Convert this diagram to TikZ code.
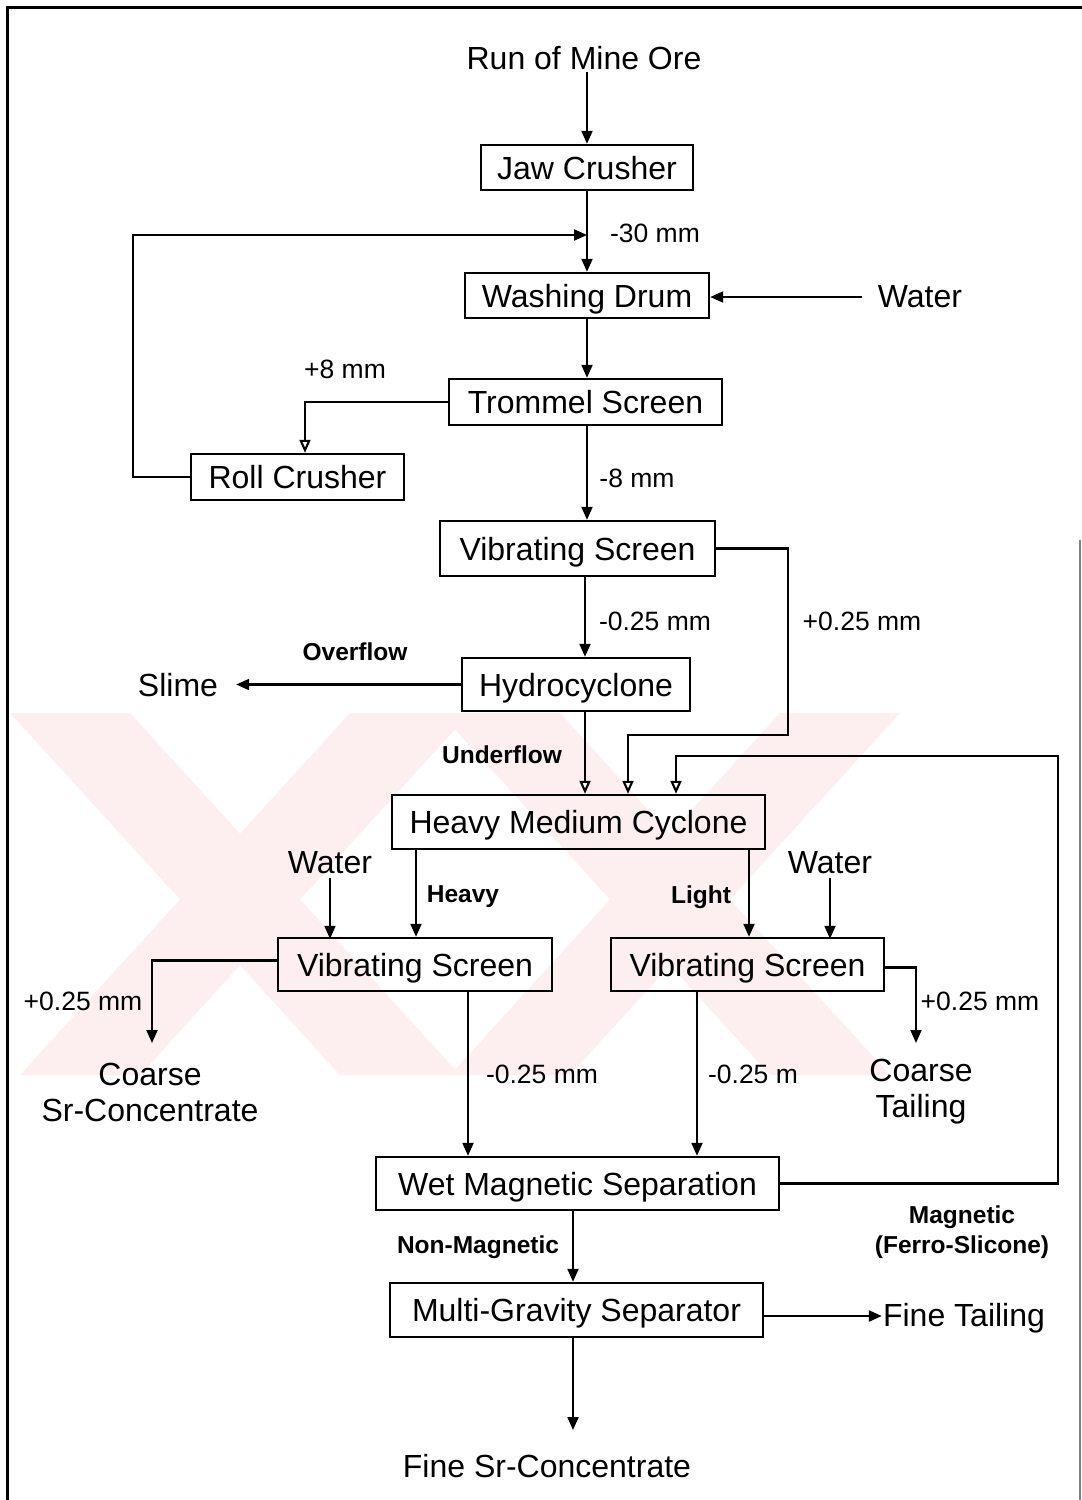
\documentclass[tikz,border=0pt]{standalone}
\usepackage{fontspec}
\setmainfont{Liberation Sans}
\usetikzlibrary{arrows.meta}
\definecolor{wm}{RGB}{253,238,240}
\begin{document}
\begin{tikzpicture}[x=1pt,y=-1pt,
  box/.style={draw, line width=2.4pt, inner sep=0pt, text height=23pt, text depth=0pt, font=\fontsize{32}{38}\selectfont},
  txt/.style={inner sep=2pt, font=\fontsize{32}{36}\selectfont, align=center},
  lbl/.style={inner sep=0pt, font=\fontsize{26.5}{30}\selectfont},
  blbl/.style={inner sep=0pt, font=\bfseries\fontsize{24.5}{30}\selectfont, align=center},
  arr/.style={line width=2.1pt, -{Triangle[length=13pt,width=11pt]}},
  oarr/.style={line width=2.1pt, -{Triangle[open,length=13pt,width=11pt,fill=white]}},
  conn/.style={line width=2.1pt}]
\useasboundingbox (0,0) rectangle (1082,1500);
\fill[white] (0,0) rectangle (1082,1500);
% watermark
\begin{scope}
\clip (10,713) rectangle (900,1075);
\fill[wm] (10,713) -- (130,713) -- (460,1075) -- (340,1075) -- cycle;
\fill[wm] (350,713) -- (470,713) -- (140,1075) -- (20,1075) -- cycle;
\fill[wm] (440,713) -- (560,713) -- (890,1075) -- (770,1075) -- cycle;
\fill[wm] (780,713) -- (900,713) -- (570,1075) -- (450,1075) -- cycle;
\end{scope}
% frame
\draw[line width=3pt] (7,1500) -- (7,7) -- (1082,7);
\draw[line width=1.5pt, gray] (1080,540) -- (1080,1500);

% nodes
\node[txt] (ore) at (584,58) {Run of Mine Ore};
\node[box, minimum width=212pt, minimum height=45pt] (jaw) at (587,167.5) {Jaw Crusher};
\node[box, minimum width=244pt, minimum height=45pt] (wash) at (587,295.5) {Washing Drum};
\node[txt] (water1) at (920,297) {Water};
\node[box, minimum width=273pt, minimum height=46pt] (trom) at (585.5,402) {Trommel Screen};
\node[box, minimum width=213pt, minimum height=46pt] (roll) at (297.5,477) {Roll Crusher};
\node[box, minimum width=275pt, minimum height=55pt] (vs1) at (577.5,548.5) {Vibrating Screen};
\node[box, minimum width=228pt, minimum height=53pt] (hyd) at (576,684.5) {Hydrocyclone};
\node[txt] (slime) at (178,685) {Slime};
\node[box, minimum width=373pt, minimum height=54pt] (hmc) at (578.5,822) {Heavy Medium Cyclone};
\node[txt] (waterL) at (330,863) {Water};
\node[txt] (waterR) at (830,863) {Water};
\node[box, minimum width=274pt, minimum height=53pt] (vs2) at (415,964.5) {Vibrating Screen};
\node[box, minimum width=273pt, minimum height=53pt] (vs3) at (747.5,964.5) {Vibrating Screen};
\node[txt] (coarseSr) at (150,1092) {Coarse\\Sr-Concentrate};
\node[txt] (coarseT) at (921,1092) {Coarse\\Tailing};
\node[box, minimum width=403pt, minimum height=53pt] (wms) at (577.5,1183.5) {Wet Magnetic Separation};
\node[box, minimum width=373pt, minimum height=54pt] (mgs) at (576.5,1310) {Multi-Gravity Separator};
\node[txt, inner sep=1pt] (fineT) at (964,1318) {Fine Tailing};
\node[txt] (fineSr) at (547,1466) {Fine Sr-Concentrate};

% labels
\node[lbl] at (655,233) {-30 mm};
\node[lbl] at (345,369) {+8 mm};
\node[lbl] at (637,478) {-8 mm};
\node[lbl] at (655,621) {-0.25 mm};
\node[lbl] at (862,621) {+0.25 mm};
\node[blbl] at (355,652) {Overflow};
\node[blbl] at (502,755) {Underflow};
\node[blbl] at (463,897) {Heavy};
\node[blbl] at (701,897) {Light};
\node[lbl] at (83,1001) {+0.25 mm};
\node[lbl] at (980,1001) {+0.25 mm};
\node[lbl] at (542,1074) {-0.25 mm};
\node[lbl] at (753,1074) {-0.25 m};
\node[blbl] at (478,1247) {Non-Magnetic};
\node[blbl] at (962,1232) {Magnetic\\(Ferro-Slicone)};

% coordinates
\coordinate (lc) at (133,235);
\coordinate (r1) at (788,735);
\coordinate (r2) at (1058,756);
\coordinate (c1) at (152,1043);
\coordinate (c2) at (916,1043);
\coordinate (fe) at (573,1430);

% connectors
\draw[arr] (jaw.north |- ore.south) -- (jaw.north);
\draw[arr] (jaw.south) -- (wash.north);
\draw[arr] (roll.west) -| (lc) -- (lc -| jaw.south);
\draw[arr] ([xshift=-14pt]water1.west) -- (wash.east |- water1.west);
\draw[arr] (wash.south) -- (wash.south |- trom.north);
\draw[oarr] (trom.west) -| ([xshift=7.5pt]roll.north);
\draw[arr] (wash.south |- trom.south) -- (wash.south |- vs1.north);
\draw[oarr] (vs1.east) -| (r1) -| ([xshift=49.5pt]hmc.north);
\draw[arr] ([xshift=7.5pt]vs1.south) -- ([xshift=7.5pt]vs1.south |- hyd.north);
\draw[arr] (hyd.west) -- ([xshift=16pt]slime.east |- hyd.west);
\draw[oarr] ([xshift=9pt]hyd.south) -- ([xshift=9pt]hyd.south |- hmc.north);
\draw[oarr] (wms.east) -| (r2) -| ([xshift=97.5pt]hmc.north);
\draw[arr] ([yshift=-2pt]waterL.south) -- ([yshift=-2pt]waterL.south |- vs2.north);
\draw[arr] ([yshift=-2pt]waterR.south) -- ([yshift=-2pt]waterR.south |- vs3.north);
\draw[arr] ([xshift=-162.5pt]hmc.south) -- ([xshift=-162.5pt]hmc.south |- vs2.north);
\draw[arr] ([xshift=170.5pt]hmc.south) -- ([xshift=170.5pt]hmc.south |- vs3.north);
\draw[arr] ([yshift=4pt]vs2.west) -| (c1);
\draw[arr] ([yshift=-3pt]vs3.east) -| (c2);
\draw[arr] ([xshift=53pt]vs2.south) -- ([xshift=53pt]vs2.south |- wms.north);
\draw[arr] ([xshift=-50.5pt]vs3.south) -- ([xshift=-50.5pt]vs3.south |- wms.north);
\draw[arr] ([xshift=-4.5pt]wms.south) -- ([xshift=-4.5pt]wms.south |- mgs.north);
\draw[arr] ([yshift=-6pt]mgs.east) -- ([yshift=-6pt]mgs.east -| fineT.west);
\draw[arr] (fe |- mgs.south) -- (fe);
\end{tikzpicture}
\end{document}
